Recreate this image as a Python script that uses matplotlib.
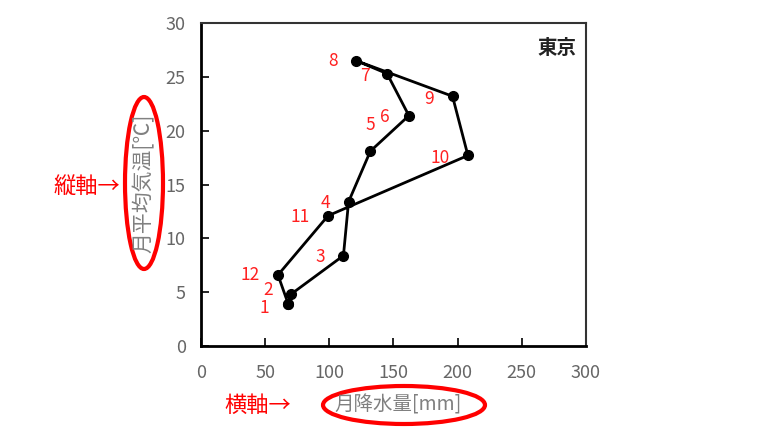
import matplotlib.pyplot as plt
from matplotlib.patches import Ellipse

plt.rcParams['font.family'] = ['Noto Sans CJK JP', 'DejaVu Sans']

months = ['1', '2', '3', '4', '5', '6', '7', '8', '9', '10', '11', '12']
rain = [68, 70, 111, 115, 132, 162, 145, 121, 196, 208, 99, 60]
temp = [3.9, 4.8, 8.4, 13.4, 18.1, 21.4, 25.3, 26.5, 23.2, 17.7, 12.1, 6.6]
xticks = [0, 50, 100, 150, 200, 250, 300]
yticks = [0, 5, 10, 15, 20, 25, 30]

# label offsets in points (x, y)
offs = [(-17, -3), (-16, 3), (-17, -1), (-17, -1), (0, 19), (-17, -1),
        (-16, -2), (-17, 0), (-17, -2), (-20, -2), (-20, -1), (-20, 0)]

fig = plt.figure(figsize=(7.68, 4.32), dpi=100)
ax = fig.add_axes([0.2617, 0.199, 0.5013, 0.7477])

ax.plot(rain + rain[:1], temp + temp[:1], color='black', lw=2,
        marker='o', ms=7, zorder=3)
for m, x, y, o in zip(months, rain, temp, offs):
    ax.annotate(m, (x, y), xytext=o, textcoords='offset points',
                ha='center', va='center', color='#ff2020', fontsize=12.5)

ax.set_xlim(0, 300)
ax.set_ylim(0, 30)
ax.set_xticks(xticks)
ax.set_yticks(yticks)
ax.tick_params(direction='in', length=6, width=1.2, labelsize=13,
               labelcolor='#666666', pad=13)
ax.tick_params(axis='y', pad=11)
for s in ['left', 'bottom']:
    ax.spines[s].set_linewidth(2)
    ax.spines[s].set_color('black')
for s in ['top', 'right']:
    ax.spines[s].set_linewidth(1.5)
    ax.spines[s].set_color('#333333')

ax.text(0.975, 0.95, '東京', transform=ax.transAxes, ha='right', va='top',
        fontsize=14, fontweight='bold', color='#222222')

# axis labels with red ellipses
fig.text(144 / 768, 1 - 183 / 432, '月平均気温[℃]', rotation=90, ha='center',
         va='center', fontsize=15, color='#808080')
fig.text(398 / 768, 1 - 405 / 432, '月降水量[mm]', ha='center', va='center',
         fontsize=14, color='#808080')
fig.patches.append(Ellipse((144 / 768, 1 - 183 / 432), 38 / 768, 172 / 432,
                           transform=fig.transFigure, fill=False,
                           edgecolor='#ff0000', lw=3))
fig.patches.append(Ellipse((404 / 768, 1 - 405 / 432), 162 / 768, 38 / 432,
                           transform=fig.transFigure, fill=False,
                           edgecolor='#ff0000', lw=3))
fig.text(87 / 768, 1 - 186 / 432, '縦軸→', ha='center', va='center',
         fontsize=16, color='#ff0000')
fig.text(258 / 768, 1 - 405 / 432, '横軸→', ha='center', va='center',
         fontsize=16, color='#ff0000')

fig.savefig('out.png', dpi=100)
